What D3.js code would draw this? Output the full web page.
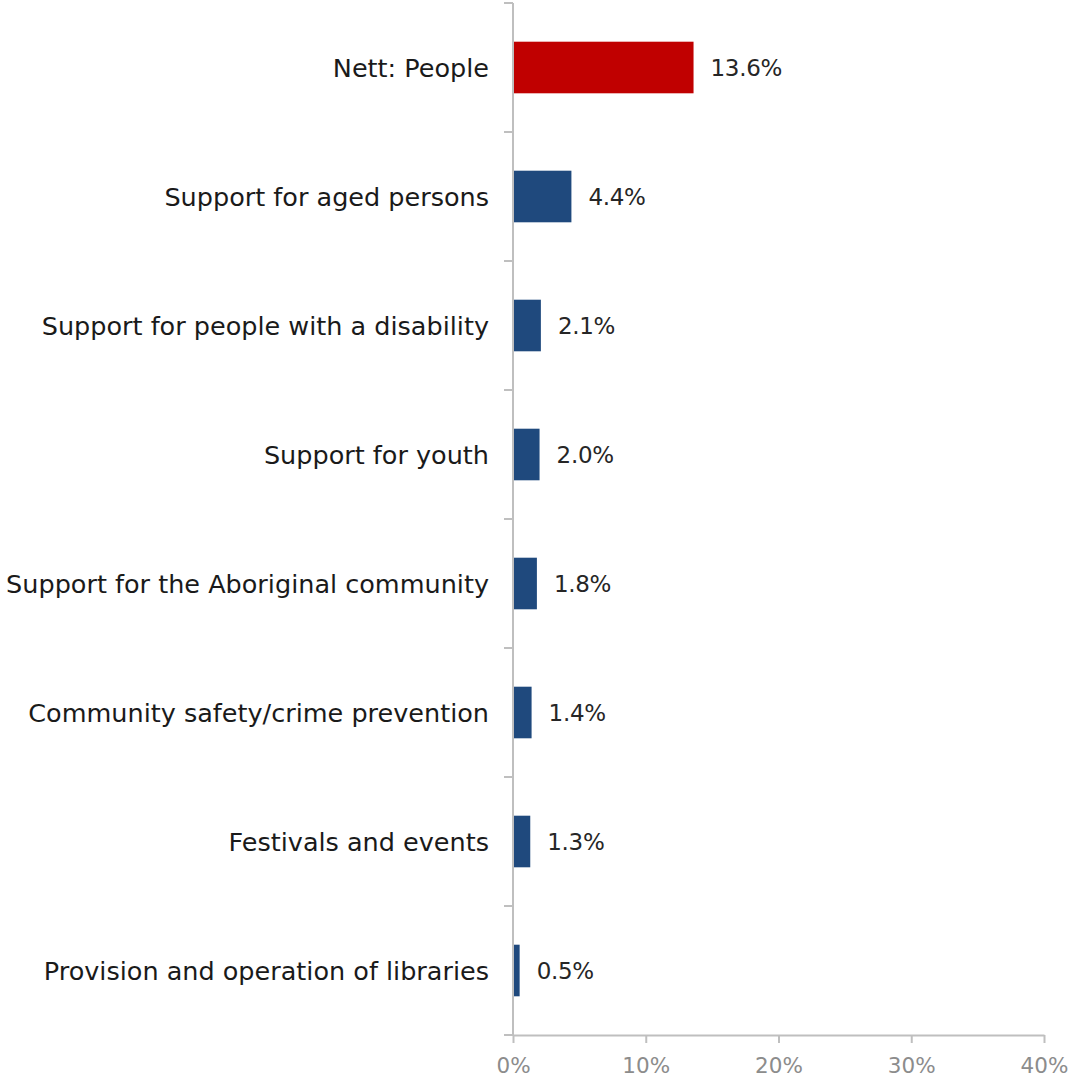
<!DOCTYPE html>
<html>
<head>
<meta charset="utf-8">
<script src="https://cdn.jsdelivr.net/npm/d3@7"></script>
<style>
  html, body { margin: 0; padding: 0; background: #fff; }
  svg { display: block; }
  text { font-family: "DejaVu Sans", "Noto Sans", sans-serif; }
</style>
</head>
<body>
<script>
// Share of mentions by service area (percent)
const categories = [
  "Nett: People",
  "Support for aged persons",
  "Support for people with a disability",
  "Support for youth",
  "Support for the Aboriginal community",
  "Community safety/crime prevention",
  "Festivals and events",
  "Provision and operation of libraries"
];
const values = [13.6, 4.4, 2.1, 2.0, 1.8, 1.4, 1.3, 0.5];
const tickValues = [0, 10, 20, 30, 40];
const tickLabels = ["0%", "10%", "20%", "30%", "40%"];

const W = 1069, H = 1079;
const margin = { left: 513, right: 25, top: 3, bottom: 44 };

const svg = d3.select("body").append("svg")
  .attr("width", W).attr("height", H);

const x = d3.scaleLinear().domain([0, 40]).range([margin.left, W - margin.right]);
const y = d3.scaleBand().domain(categories)
  .range([margin.top, H - margin.bottom]).paddingInner(0.6).paddingOuter(0.3);

const axisColor = "#bfbfbf";
const bandStep = (H - margin.bottom - margin.top) / categories.length;

// y axis line with category separators
svg.append("line")
  .attr("x1", margin.left).attr("x2", margin.left)
  .attr("y1", margin.top).attr("y2", H - margin.bottom)
  .attr("stroke", axisColor).attr("stroke-width", 2);
d3.range(categories.length + 1).forEach(i => {
  const yy = margin.top + i * bandStep;
  svg.append("line")
    .attr("x1", margin.left - 9).attr("x2", margin.left)
    .attr("y1", yy).attr("y2", yy)
    .attr("stroke", axisColor).attr("stroke-width", 2);
});

// x axis
const xAxis = d3.axisBottom(x).tickValues(tickValues)
  .tickFormat((d, i) => tickLabels[i]).tickSize(8).tickSizeOuter(0).tickPadding(15);
const gx = svg.append("g")
  .attr("transform", `translate(0,${H - margin.bottom})`)
  .call(xAxis);
gx.select(".domain").attr("stroke", axisColor).attr("stroke-width", 2);
gx.selectAll(".tick line").attr("stroke", axisColor).attr("stroke-width", 2);
gx.selectAll(".tick text")
  .attr("fill", "#8c8c8c")
  .style("font-size", "21.5px")
  .style("font-family", "'DejaVu Sans', sans-serif");

// bars
svg.selectAll("rect.bar")
  .data(categories)
  .join("rect")
  .attr("class", "bar")
  .attr("x", x(0) + 1)
  .attr("y", d => y(d))
  .attr("width", (d, i) => x(values[i]) - x(0) - 1)
  .attr("height", y.bandwidth())
  .attr("fill", (d, i) => i === 0 ? "#c00000" : "#1f497d");

// value labels
svg.selectAll("text.val")
  .data(categories)
  .join("text")
  .attr("class", "val")
  .attr("x", (d, i) => x(values[i]) + 17)
  .attr("y", d => y(d) + y.bandwidth() / 2)
  .attr("dy", "0.36em")
  .attr("fill", "#262626")
  .style("font-size", "23px")
  .style("letter-spacing", "-0.3px")
  .text((d, i) => values[i].toFixed(1) + "%");

// category labels
svg.selectAll("text.cat")
  .data(categories)
  .join("text")
  .attr("class", "cat")
  .attr("x", margin.left - 24)
  .attr("y", d => y(d) + y.bandwidth() / 2)
  .attr("dy", "0.36em")
  .attr("text-anchor", "end")
  .attr("fill", "#1a1a1a")
  .style("font-size", "25.5px")
  .text(d => d);
</script>
</body>
</html>
